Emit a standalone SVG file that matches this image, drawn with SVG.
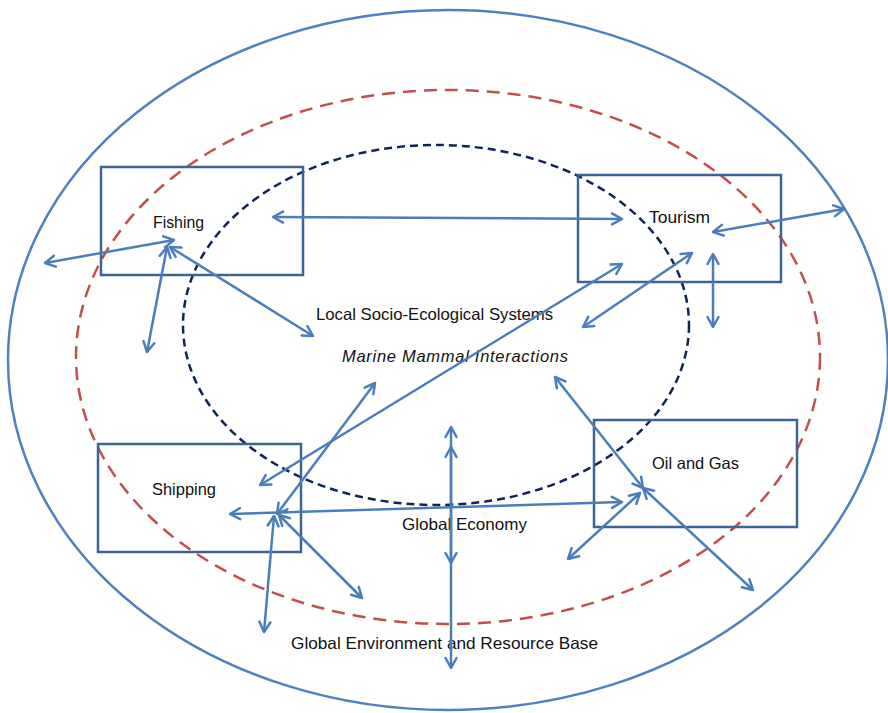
<svg xmlns="http://www.w3.org/2000/svg" width="888" height="713" viewBox="0 0 888 713">
<style>
.txt{font-family:"Liberation Sans",Arial,sans-serif;font-size:16.5px;fill:#111}
.box{fill:none;stroke:#3C6494;stroke-width:2.5}
.con{fill:none;stroke:#4A7EBB;stroke-width:2.5;marker-start:url(#ah);marker-end:url(#ah)}
</style>
<defs>
<marker id="ah" viewBox="0 0 14 14" refX="12" refY="7" markerWidth="14" markerHeight="14" markerUnits="userSpaceOnUse" orient="auto-start-reverse">
<path d="M2,1.5 L12,7 L2,12.5" fill="none" stroke="#4A7EBB" stroke-width="2.5" stroke-linejoin="round" stroke-linecap="round"/>
</marker>
</defs>
<rect width="888" height="713" fill="#fff"/>
<g id="global-environment">
<ellipse cx="448" cy="360" rx="440" ry="350" fill="none" stroke="#4F81BD" stroke-width="2.5"/>
<text class="txt" x="291" y="649" textLength="307" lengthAdjust="spacingAndGlyphs">Global Environment  and Resource Base</text>
</g>
<g id="global-economy">
<ellipse cx="448" cy="357" rx="372" ry="267" fill="none" stroke="#C0504D" stroke-width="2.5" stroke-dasharray="13 8"/>
<text class="txt" x="402" y="530" textLength="125" lengthAdjust="spacingAndGlyphs">Global Economy</text>
</g>
<g id="local-ses">
<ellipse cx="436" cy="325" rx="253" ry="180" fill="none" stroke="#0F2557" stroke-width="2.5" stroke-dasharray="8 5"/>
<text class="txt" x="316" y="320" textLength="237" lengthAdjust="spacingAndGlyphs">Local Socio-Ecological Systems</text>
<text class="txt" x="342" y="362" textLength="226" lengthAdjust="spacing" font-style="italic">Marine Mammal Interactions</text>
</g>
<g id="fishing">
<rect class="box" x="101" y="167" width="202" height="108"/>
<text class="txt" x="153" y="228" textLength="51" lengthAdjust="spacingAndGlyphs">Fishing</text>
</g>
<g id="tourism">
<rect class="box" x="578" y="175" width="203" height="107"/>
<text class="txt" x="649" y="223" textLength="61" lengthAdjust="spacingAndGlyphs">Tourism</text>
</g>
<g id="shipping">
<rect class="box" x="98" y="444" width="203" height="108"/>
<text class="txt" x="152" y="495" textLength="64" lengthAdjust="spacingAndGlyphs">Shipping</text>
</g>
<g id="oil-and-gas">
<rect class="box" x="594" y="420" width="203" height="107"/>
<text class="txt" x="652" y="469" textLength="87" lengthAdjust="spacingAndGlyphs">Oil and Gas</text>
</g>
<g id="connectors">
<line class="con" x1="273" y1="217" x2="622" y2="219"/>
<line class="con" x1="174" y1="240" x2="45" y2="263"/>
<line class="con" x1="167" y1="247" x2="147" y2="352"/>
<line class="con" x1="170" y1="247" x2="313" y2="336"/>
<line class="con" x1="713" y1="232" x2="844" y2="209"/>
<line class="con" x1="713" y1="254" x2="713" y2="327"/>
<line class="con" x1="583" y1="327" x2="692" y2="253"/>
<line class="con" x1="260" y1="485" x2="622" y2="264"/>
<line class="con" x1="277" y1="514" x2="375" y2="383"/>
<line class="con" x1="230" y1="514" x2="622" y2="502"/>
<line class="con" x1="274" y1="516" x2="264" y2="632"/>
<line class="con" x1="279" y1="515" x2="362" y2="598"/>
<line class="con" x1="451" y1="427" x2="451" y2="563"/>
<line class="con" x1="451" y1="447" x2="451" y2="668"/>
<line class="con" x1="555" y1="377" x2="643" y2="488"/>
<line class="con" x1="643" y1="488" x2="753" y2="590"/>
<line class="con" x1="568" y1="559" x2="640" y2="493"/>
</g>
</svg>
